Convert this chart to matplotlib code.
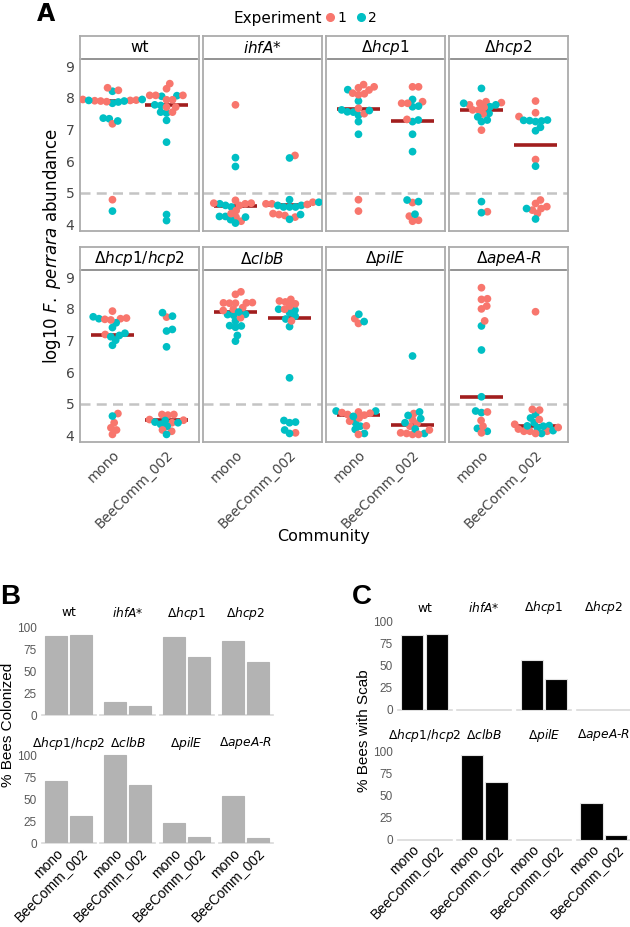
import numpy as np
import matplotlib
matplotlib.use('Agg')
import matplotlib.pyplot as plt
import matplotlib.transforms as mtrans
from matplotlib.lines import Line2D

plt.rcParams['font.family'] = ['DejaVu Sans']
plt.rcParams['mathtext.fontset'] = 'dejavusans'

W, H = 630, 927

# ---- data ---------------------------------------------------------------
strain_titles = ['wt', r'$\mathit{ihfA}$*', r'$\Delta\mathit{hcp1}$', r'$\Delta\mathit{hcp2}$',
                 r'$\Delta\mathit{hcp1/hcp2}$', r'$\Delta\mathit{clbB}$', r'$\Delta\mathit{pilE}$',
                 r'$\Delta\mathit{apeA}$-$\mathit{R}$']
communities = ['mono', 'BeeComm_002']

# log10 F. perrara abundance, experiment 1 / experiment 2
wt_mono_1 = [7.95, 7.93, 7.92, 7.91, 7.90, 7.88, 8.32, 8.24, 7.18, 4.78]
wt_mono_2 = [8.21, 7.87, 7.83, 7.90, 7.92, 7.95, 7.36, 7.34, 7.27, 4.42]
wt_bc_1 = [8.45, 8.29, 8.08, 8.08, 8.08, 7.94, 7.94, 7.71, 7.71, 7.55]
wt_bc_2 = [8.07, 8.05, 7.76, 7.78, 7.52, 7.55, 7.29, 6.60, 4.31, 4.12]
ihf_mono_1 = [7.78, 4.65, 4.67, 4.76, 4.60, 4.67, 4.10, 4.23, 4.34, 4.44]
ihf_mono_2 = [6.11, 5.83, 4.60, 4.55, 4.65, 4.25, 4.23, 4.15, 4.04, 4.25]
ihf_bc_1 = [6.18, 4.70, 4.65, 4.63, 4.65, 4.23, 4.28, 4.31, 4.34]
ihf_bc_2 = [6.10, 4.60, 4.55, 4.55, 4.78, 4.55, 4.60, 4.70, 4.31, 4.16]
hcp1_mono_1 = [8.42, 8.35, 8.32, 8.25, 8.15, 8.13, 8.10, 7.67, 7.50, 4.78, 4.42]
hcp1_mono_2 = [8.26, 7.90, 7.62, 7.56, 7.55, 7.45, 7.25, 6.85, 7.60]
hcp1_bc_1 = [8.35, 8.35, 7.88, 7.83, 7.83, 7.32, 4.69, 4.26, 4.13, 4.10]
hcp1_bc_2 = [7.95, 7.72, 7.74, 7.25, 7.30, 6.85, 6.30, 4.77, 4.72, 4.32]
hcp2_mono_1 = [7.85, 7.78, 7.88, 7.83, 7.62, 7.49, 7.62, 6.98, 4.40, 7.70]
hcp2_mono_2 = [8.30, 7.83, 7.78, 7.72, 7.51, 7.40, 7.30, 7.25, 4.72, 4.37]
hcp2_bc_1 = [7.90, 7.53, 7.41, 6.05, 4.77, 4.66, 4.56, 4.50, 4.45, 4.35]
hcp2_bc_2 = [7.27, 7.25, 7.30, 7.29, 7.28, 7.07, 6.96, 5.84, 4.50, 4.17]
hcp12_mono_1 = [7.93, 7.69, 7.67, 7.65, 7.71, 7.19, 4.69, 4.40, 4.24, 4.17, 4.03]
hcp12_mono_2 = [7.75, 7.69, 7.56, 7.41, 7.16, 7.12, 7.23, 7.01, 6.85, 4.61]
hcp12_bc_1 = [7.74, 4.66, 4.48, 4.64, 4.66, 4.40, 4.13, 4.17, 4.50]
hcp12_bc_2 = [7.88, 7.77, 7.30, 7.35, 6.80, 4.35, 4.29, 4.40, 4.42, 4.03, 4.47]
clb_mono_1 = [8.46, 8.54, 8.20, 8.19, 8.18, 8.19, 8.18, 8.04, 7.99, 7.72, 7.95]
clb_mono_2 = [7.80, 7.82, 7.83, 7.62, 7.46, 7.47, 7.42, 7.16, 6.98, 7.90]
clb_bc_1 = [8.25, 8.30, 8.22, 8.16, 7.99, 8.09, 7.62, 4.08]
clb_bc_2 = [7.99, 7.88, 7.96, 7.68, 7.77, 7.44, 5.82, 4.47, 4.40, 4.42, 4.17, 4.06]
pil_mono_1 = [7.69, 7.54, 4.74, 4.66, 4.64, 4.70, 4.72, 4.55, 4.45, 4.03, 4.30]
pil_mono_2 = [7.83, 7.60, 4.77, 4.77, 4.40, 4.29, 4.19, 4.06, 4.60]
pil_bc_1 = [4.69, 4.50, 4.38, 4.29, 4.08, 4.06, 4.03, 4.03, 4.17]
pil_bc_2 = [6.51, 4.74, 4.63, 4.53, 4.40, 4.06, 4.20]
ape_mono_1 = [8.67, 8.30, 8.32, 8.09, 8.00, 7.62, 4.74, 4.47, 4.29, 4.08]
ape_mono_2 = [7.46, 6.70, 5.22, 4.72, 4.77, 4.22, 4.13]
ape_bc_1 = [7.91, 4.82, 4.80, 4.35, 4.13, 4.13, 4.20, 4.13, 4.06, 4.25, 4.50]
ape_bc_2 = [4.66, 4.55, 4.40, 4.31, 4.24, 4.29, 4.15, 4.06, 4.30]

abund = [
    [(wt_mono_1, wt_mono_2), (wt_bc_1, wt_bc_2)],
    [(ihf_mono_1, ihf_mono_2), (ihf_bc_1, ihf_bc_2)],
    [(hcp1_mono_1, hcp1_mono_2), (hcp1_bc_1, hcp1_bc_2)],
    [(hcp2_mono_1, hcp2_mono_2), (hcp2_bc_1, hcp2_bc_2)],
    [(hcp12_mono_1, hcp12_mono_2), (hcp12_bc_1, hcp12_bc_2)],
    [(clb_mono_1, clb_mono_2), (clb_bc_1, clb_bc_2)],
    [(pil_mono_1, pil_mono_2), (pil_bc_1, pil_bc_2)],
    [(ape_mono_1, ape_mono_2), (ape_bc_1, ape_bc_2)],
]

# % bees colonized (B) and % bees with scab (C)
colonized_mono = [90, 15, 89, 84.5, 71, 100, 22.7, 53.4]
colonized_bc = [90.5, 10.2, 65.5, 60.2, 30.7, 65.9, 7.6, 6.4]
scab_mono = [84.3, 0, 56.2, 0, 0, 95.9, 0, 41.9]
scab_bc = [85, 0, 35.2, 0, 0, 65.7, 0, 6]

exp_colors = ['#F8766D', '#00BFC4']


def swarm(values, d_px, sx, sy):
    # simple beeswarm: smallest horizontal offset without overlap
    yp = np.asarray(values, dtype=float) * sy
    xs = np.zeros(len(yp))
    placed = []
    for i in np.argsort(yp, kind='stable'):
        cands = [0.0]
        for j in placed:
            dy = yp[i] - yp[j]
            if abs(dy) < d_px:
                dx = np.sqrt(d_px ** 2 - dy ** 2)
                cands += [xs[j] + dx, xs[j] - dx]
        cands.sort(key=abs)
        for c in cands:
            if all((c - xs[j]) ** 2 + (yp[i] - yp[j]) ** 2 >= d_px ** 2 - 1e-6 for j in placed):
                xs[i] = c
                break
        placed.append(i)
    return xs / sx


fig = plt.figure(figsize=(W / 100, H / 100), dpi=100)

# ---- panel A ------------------------------------------------------------
border = '#ababab'
ylo, yhi = 3.79, 9.23
for k, title in enumerate(strain_titles):
    r, c = divmod(k, 4)
    left = 80 + c * 123
    s_top, s_bot, p_bot = 36 + r * 211, 59 + r * 211, 231 + r * 211
    ax = fig.add_axes([left / W, 1 - p_bot / H, 119 / W, (p_bot - s_bot) / H])
    sax = fig.add_axes([left / W, 1 - s_bot / H, 119 / W, (s_bot - s_top) / H])

    sax.set_xticks([]); sax.set_yticks([])
    for side in ['top', 'left', 'right']:
        sax.spines[side].set_color(border); sax.spines[side].set_linewidth(1.3)
    sax.spines['bottom'].set_visible(False)
    sax.plot([0.015, 0.985], [0.02, 0.02], transform=sax.transAxes, color='#8a8a8a', lw=1.3, clip_on=False)
    sax.text(0.5, 0.48, title, transform=sax.transAxes, ha='center', va='center', fontsize=11)

    ax.set_xlim(0.4, 2.6)
    ax.set_ylim(ylo, yhi)
    sx = 119 / 2.2
    sy = (p_bot - s_bot) / (yhi - ylo)
    ax.axhline(5, color='#c4c4c4', lw=1.8, ls=(0, (4, 2.5)), zorder=1)
    for pos, (e1, e2) in enumerate(abund[k], start=1):
        vals = list(e1) + list(e2)
        cols = [exp_colors[0]] * len(e1) + [exp_colors[1]] * len(e2)
        # interleave drawing order of the two experiments
        order = []
        for a in range(max(len(e1), len(e2))):
            if a < len(e1): order.append(a)
            if a < len(e2): order.append(len(e1) + a)
        off = swarm(vals, 6.0, sx, sy)
        med = np.median(vals)
        ax.plot([pos - 0.39, pos + 0.39], [med, med], color='#a11e1e', lw=2.6,
                solid_capstyle='butt', zorder=2)
        ax.scatter([pos + off[o] for o in order], [vals[o] for o in order],
                   c=[cols[o] for o in order], s=31, linewidths=0, zorder=3)
    ax.spines['top'].set_visible(False)
    for side in ['left', 'right', 'bottom']:
        ax.spines[side].set_color(border); ax.spines[side].set_linewidth(1.3)
    ax.set_yticks([4, 5, 6, 7, 8, 9])
    ax.tick_params(length=0, labelsize=10, labelcolor='#454545', pad=4)
    if c != 0:
        ax.set_yticklabels([])
    ax.set_xticks([1, 2])
    if r == 1:
        ax.set_xticklabels(communities, rotation=45, ha='right', rotation_mode='anchor', fontsize=9.8)
    else:
        ax.set_xticklabels([])

fig.text(37 / W, 1 - 2 / H, 'A', fontsize=17, fontweight='bold', ha='left', va='top')
fig.text(322 / W, 1 - 18 / H, 'Experiment', fontsize=11, ha='right', va='center')
handles = [Line2D([], [], marker='o', ls='', color=col, markersize=5.5) for col in exp_colors]
fig.legend(handles, ['1', '2'], ncol=2, loc='center left', bbox_to_anchor=(324 / W, 1 - 18 / H),
           frameon=False, handletextpad=0.05, columnspacing=0.6, handlelength=0.9,
           borderaxespad=0, borderpad=0, fontsize=10)
fig.text(52 / W, 1 - 246 / H, r'log10 $\mathit{F.\ perrara}$ abundance', rotation=90,
         ha='center', va='center', fontsize=12)
fig.text(324 / W, 1 - 537 / H, 'Community', ha='center', va='center', fontsize=11.5)


# ---- panels B and C -----------------------------------------------------
def bar_panel(mono, bc, color, edge, cx0, dcx, rows):
    for k, title in enumerate(strain_titles):
        r, c = divmod(k, 4)
        zero, hundred, title_y = rows[r]
        ppu = (zero - hundred) / 100
        cx = cx0 + c * dcx
        top = zero - 104 * ppu
        ax = fig.add_axes([(cx - 27) / W, 1 - zero / H, 54 / W, (zero - top) / H])
        ax.bar([1, 2], [mono[k], bc[k]], width=0.9, color=color, edgecolor=edge, linewidth=0.8)
        ax.axhline(0, color='#d9d9d9', lw=1.2, clip_on=False, zorder=0)
        ax.set_xlim(0.4, 2.6)
        ax.set_ylim(0, 104)
        for s in ax.spines.values():
            s.set_visible(False)
        ax.set_yticks([0, 25, 50, 75, 100])
        ax.tick_params(length=0, pad=3.5)
        ax.tick_params(axis='y', labelsize=8.5, labelcolor='#595959')
        if c != 0:
            ax.set_yticklabels([])
        else:
            for t in ax.get_yticklabels():
                t.set_family('Liberation Sans')
        ax.set_xticks([1, 2])
        if r == 1:
            ax.set_xticklabels(communities, rotation=45, ha='right', rotation_mode='anchor',
                               fontsize=10, family='Liberation Sans')
            ax.tick_params(axis='x', pad=2)
        else:
            ax.set_xticklabels([])
        tr = mtrans.blended_transform_factory(ax.transAxes, fig.transFigure)
        ax.text(0.5, 1 - title_y / H, title, transform=tr, ha='center', va='center', fontsize=8.8)


bar_panel(colonized_mono, colonized_bc, '#b3b3b3', '#b3b3b3', 68.5, 59.0,
          [(715, 627, 613), (843.3, 755, 743)])
bar_panel(scab_mono, scab_bc, 'black', '#e3e3e3', 424.5, 59.75,
          [(710, 621, 608), (840, 751.7, 735)])

fig.text(0 / W, 1 - 584 / H, 'B', fontsize=20, fontweight='bold', family='Liberation Sans', ha='left', va='top')
fig.text(352 / W, 1 - 584 / H, 'C', fontsize=20, fontweight='bold', family='Liberation Sans', ha='left', va='top')
fig.text(8 / W, 1 - 725 / H, '% Bees Colonized', rotation=90, ha='center', va='center',
         fontsize=11, family='Liberation Sans')
fig.text(364 / W, 1 - 731 / H, '% Bees with Scab', rotation=90, ha='center', va='center',
         fontsize=11, family='Liberation Sans')

fig.savefig('out.png', dpi=100)
